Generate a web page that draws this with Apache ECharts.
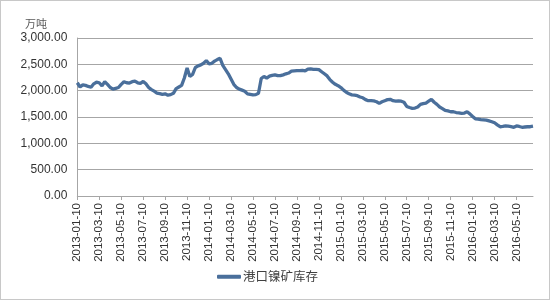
<!DOCTYPE html>
<html><head><meta charset="utf-8">
<script src="https://cdn.jsdelivr.net/npm/echarts@6/dist/echarts.min.js"></script>
<style>html,body{margin:0;padding:0;background:#fff}#c{width:550px;height:300px;box-sizing:border-box;border:1px solid #c8c8c8}</style>
</head><body><div id="c"></div>
<script>
const seriesName = '港口镍矿库存';
const unitLabel = '万吨';
const yMin = 0, yMax = 3000, yStep = 500;
// weekly-ish readings, 4 per month starting 2013-01-10
const stock = [
 2150,2070,2110,2100,2080,2065,2130,2160,2150,2090,
 2170,2120,2060,2030,2045,2060,2120,2170,2150,2145,
 2170,2180,2150,2140,2175,2130,2060,2020,1990,1955,
 1945,1930,1940,1915,1925,1950,2040,2070,2100,2240,
 2430,2270,2310,2440,2470,2490,2520,2570,2510,2520,
 2560,2590,2615,2480,2400,2320,2220,2120,2060,2030,
 2010,1990,1940,1930,1920,1925,1950,2230,2270,2240,
 2275,2290,2300,2285,2285,2300,2320,2335,2370,2375,
 2380,2382,2385,2375,2410,2415,2405,2405,2400,2360,
 2320,2280,2210,2160,2120,2095,2060,2010,1970,1940,
 1920,1915,1905,1880,1865,1830,1810,1810,1805,1790,
 1760,1790,1810,1830,1835,1810,1800,1805,1800,1780,
 1700,1680,1665,1670,1690,1740,1755,1765,1800,1835,
 1780,1740,1690,1660,1625,1615,1600,1600,1585,1580,
 1570,1575,1600,1560,1510,1465,1460,1450,1445,1440,
 1425,1410,1390,1350,1315,1320,1330,1325,1315,1305,
 1330,1320,1305,1310,1315,1315,1325
];
const categories = [];
(function () {
  let y = 2013, m = 1;
  const p = n => String(n).padStart(2, '0');
  while (categories.length < stock.length) {
    for (const d of ['10', '17', '24']) categories.push(y + '-' + p(m) + '-' + d);
    let ny = y, nm = m + 1;
    if (nm > 12) { nm = 1; ny++; }
    categories.push(ny + '-' + p(nm) + '-03');
    y = ny; m = nm;
  }
  categories.length = stock.length;
})();

const chart = echarts.init(document.getElementById('c'), null, {renderer: 'canvas'});
const grey = '#a6a6a6';
const fmt = v => v.toFixed(2).replace(/\B(?=(\d{3})+(?!\d))/g, ',');
chart.setOption({
  animation: false,
  backgroundColor: '#ffffff',
  title: {
    text: unitLabel, left: 19, top: 12,
    textStyle: {fontSize: 11, fontWeight: 'normal', color: '#595959', fontFamily: 'Noto Sans CJK SC'}
  },
  grid: {left: 76.3, right: 16, top: 37, bottom: 103, containLabel: false},
  legend: {
    bottom: 11, left: 211,
    icon: 'roundRect', itemWidth: 24, itemHeight: 4, itemGap: 4,
    textStyle: {fontSize: 12.5, color: '#404040', fontFamily: 'Noto Sans CJK SC', padding: [0, 0, 0, -3]},
    data: [seriesName]
  },
  xAxis: {
    type: 'category', data: categories, boundaryGap: false,
    axisLine: {lineStyle: {color: grey, width: 1}},
    axisTick: {show: true, interval: 7, length: 4, lineStyle: {color: grey}},
    axisLabel: {interval: 7, rotate: 90, fontSize: 11.5, color: '#333333', margin: 7,
      fontFamily: 'Liberation Sans'},
    splitLine: {show: false}
  },
  yAxis: {
    type: 'value', min: yMin, max: yMax, interval: yStep,
    axisLine: {show: true, lineStyle: {color: grey, width: 1}},
    axisTick: {show: false},
    axisLabel: {formatter: fmt, fontSize: 12, color: '#333333', margin: 10, fontFamily: 'Liberation Sans'},
    splitLine: {lineStyle: {color: grey, width: 1}}
  },
  series: [{
    name: seriesName, type: 'line', data: stock,
    showSymbol: false, symbol: 'none',
    lineStyle: {width: 3.3, color: '#4a6f9b'},
    itemStyle: {color: '#4a6f9b'}
  }]
});
</script></body></html>
